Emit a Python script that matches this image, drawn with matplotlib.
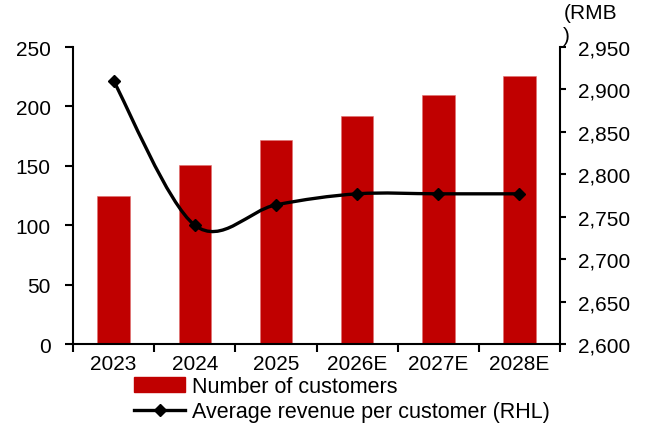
import matplotlib
matplotlib.use("Agg")
import matplotlib.pyplot as plt
import numpy as np
from matplotlib.path import Path
from matplotlib.patches import PathPatch
from matplotlib.lines import Line2D
from matplotlib.patches import Patch
from matplotlib.ticker import FuncFormatter

plt.rcParams['font.family'] = ['Liberation Sans', 'DejaVu Sans']

years = ["2023", "2024", "2025", "2026E", "2027E", "2028E"]
customers = [125, 151, 172, 192, 210, 226]
arpc = [2910, 2740, 2764, 2777, 2777, 2777]

FS = 15

fig = plt.figure(figsize=(6.49, 4.31), dpi=100)
ax = fig.add_axes([0.1125, 0.1995, 0.7505, 0.6891])
ax2 = ax.twinx()

x = np.arange(len(years))
ax.bar(x, customers, width=0.4, color="#C00000", edgecolor="#E07070", linewidth=0.4, zorder=2)

ax.set_xlim(-0.5, len(years) - 0.5)
ax.set_ylim(0, 250)
ax.set_yticks(range(0, 251, 50))
ax2.set_ylim(2600, 2950)
ax2.set_yticks(range(2600, 2951, 50))
ax2.yaxis.set_major_formatter(FuncFormatter(lambda v, p: f"{int(v):,}"))

ax.set_xticks(x)
ax.set_xticklabels(years)
ax.set_xticks(np.arange(-0.5, len(years), 1.0), minor=True)
ax.tick_params(axis='x', which='major', length=0, pad=7, labelsize=FS)
ax.tick_params(axis='x', which='minor', length=6, width=1.5, direction='out')
ax.tick_params(axis='y', length=6, width=1.5, direction='out', labelsize=FS, pad=10)
ax2.tick_params(axis='y', length=4, width=1.5, direction='out', labelsize=FS, pad=9)

for a in (ax, ax2):
    a.spines["top"].set_visible(False)
    for s in ("left", "right", "bottom"):
        a.spines[s].set_linewidth(1.5)
ax.spines["right"].set_visible(False)
ax2.spines["left"].set_visible(False)
ax2.spines["bottom"].set_visible(False)

# smoothed line (Catmull-Rom style Bezier, tension 1/6)
px = np.array(x, dtype=float)
py = np.array(arpc, dtype=float)
verts = [(px[0], py[0])]
codes = [Path.MOVETO]
n = len(px)
for i in range(n - 1):
    p0 = (px[i - 1], py[i - 1]) if i > 0 else (px[i], py[i])
    p1 = (px[i], py[i])
    p2 = (px[i + 1], py[i + 1])
    p3 = (px[i + 2], py[i + 2]) if i + 2 < n else (px[i + 1], py[i + 1])
    c1 = (p1[0] + (p2[0] - p0[0]) / 6, p1[1] + (p2[1] - p0[1]) / 6)
    c2 = (p2[0] - (p3[0] - p1[0]) / 6, p2[1] - (p3[1] - p1[1]) / 6)
    verts += [c1, c2, p2]
    codes += [Path.CURVE4] * 3
ax2.add_patch(PathPatch(Path(verts, codes), facecolor='none', edgecolor='black',
                        linewidth=2.4, zorder=3))
ax2.plot(x, arpc, linestyle='none', marker='D', markersize=6.5, color='black', zorder=4)

# right-axis unit, wrapped over two lines
fig.text(0.868, 1 - 4 / 431, "(RMB", fontsize=FS, ha='left', va='top')
fig.text(0.868, 1 - 27 / 431, ")", fontsize=FS, ha='left', va='top')

handles = [Patch(facecolor="#C00000", edgecolor="#C00000"),
           Line2D([0], [0], color='black', linewidth=2.4, marker='D', markersize=6)]
labels = ["Number of customers", "Average revenue per customer (RHL)"]
fig.legend(handles, labels, loc='upper left', bbox_to_anchor=(0.206, 0.125),
           frameon=False, fontsize=15.5, handlelength=2.4, handleheight=0.7,
           labelspacing=0.2, handletextpad=0.3, borderaxespad=0, borderpad=0)

fig.savefig("out.png", dpi=100)
